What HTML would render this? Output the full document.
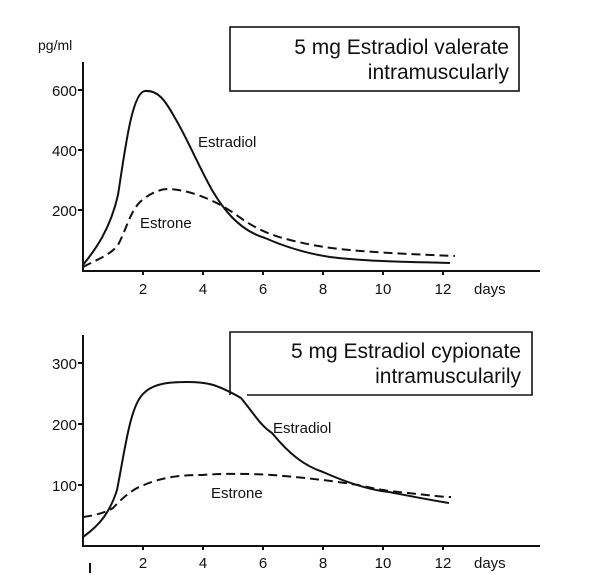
<!DOCTYPE html><html><head><style>body{margin:0;background:#fff}svg{display:block}text{font-family:"Liberation Sans",sans-serif;fill:#111}</style></head><body>
<svg width="604" height="575" viewBox="0 0 604 575" xmlns="http://www.w3.org/2000/svg">
<g stroke="#111" fill="none" stroke-width="2">
<path d="M83 62V271H540"/>
<path d="M78 90H83M78 150H83M78 210H83M143 271v4M203 271v4M263 271v4M323 271v4M383 271v4M443 271v4"/>
<rect x="230" y="27" width="289" height="64" stroke-width="1.6"/>
<path d="M83 265C95 250 110 230 118 195C125 150 132 92 145 91C158 90 165 100 175 118C188 140 198 165 212 190C222 207 238 230 265 238C290 249 310 254 330 257C370 262 420 262 450 263"/>
<path stroke-dasharray="9 5" d="M83 267C100 258 110 255 118 245C126 230 130 212 140 202C150 193 160 189 169 189C190 190 215 200 235 214C250 225 265 234 290 240C330 250 360 252 455 256"/>
<path d="M83 335V546H540"/>
<path d="M78 363H83M78 424H83M78 485H83M143 546v4M203 546v4M263 546v4M323 546v4M383 546v4M443 546v4M90 563v10"/>
<path d="M230 395V332H532V395H247" stroke-width="1.6"/>
<path d="M83 537C100 525 110 512 117 490C125 450 130 405 144 393C155 382 175 382 187 382C205 382 215 383 241 398C255 415 260 425 272 433C290 455 305 466 323 472C350 484 370 490 389 492C420 498 430 500 449 503"/>
<path stroke-dasharray="9 5" d="M83 517C100 515 110 510 113 508C125 495 135 488 144 485C165 476 185 475 202 475C230 473 255 474 272 475C310 478 340 482 358 485C375 489 389 491 389 491C420 494 440 497 451 497"/>
</g>
<g font-size="15">
<text x="38" y="50" font-size="14">pg/ml</text>
<text x="77" y="96" text-anchor="end">600</text><text x="77" y="156" text-anchor="end">400</text><text x="77" y="216" text-anchor="end">200</text>
<text x="143" y="294" text-anchor="middle">2</text><text x="203" y="294" text-anchor="middle">4</text><text x="263" y="294" text-anchor="middle">6</text><text x="323" y="294" text-anchor="middle">8</text><text x="383" y="294" text-anchor="middle">10</text><text x="443" y="294" text-anchor="middle">12</text><text x="474" y="294">days</text>
<text x="198" y="147">Estradiol</text><text x="140" y="228">Estrone</text>
<text x="77" y="369" text-anchor="end">300</text><text x="77" y="430" text-anchor="end">200</text><text x="77" y="491" text-anchor="end">100</text>
<text x="143" y="568" text-anchor="middle">2</text><text x="203" y="568" text-anchor="middle">4</text><text x="263" y="568" text-anchor="middle">6</text><text x="323" y="568" text-anchor="middle">8</text><text x="383" y="568" text-anchor="middle">10</text><text x="443" y="568" text-anchor="middle">12</text><text x="474" y="568">days</text>
<text x="273" y="433">Estradiol</text><text x="211" y="498">Estrone</text>
</g>
<g font-size="21" text-anchor="end">
<text x="509" y="54">5 mg  Estradiol  valerate</text><text x="509" y="79">intramuscularly</text>
<text x="521" y="358">5 mg  Estradiol  cypionate</text><text x="521" y="383">intramuscularily</text>
</g>
</svg></body></html>
